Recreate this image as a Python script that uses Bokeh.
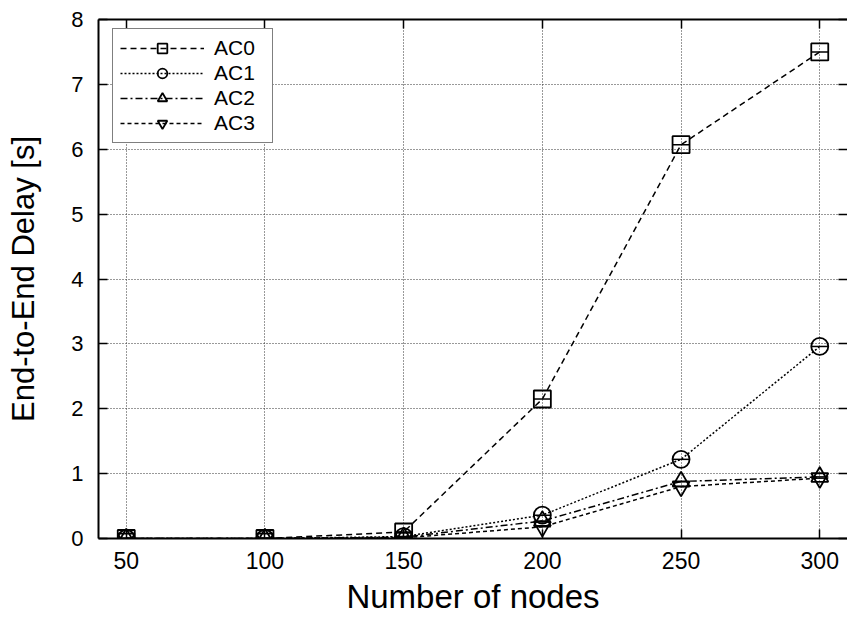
from bokeh.plotting import figure
from bokeh.models import LinearAxis, Range1d, FixedTicker
from bokeh.embed import file_html
from bokeh.resources import INLINE

nodes = [50, 100, 150, 200, 250, 300]
ac0 = [0.0, 0.0, 0.1, 2.15, 6.07, 7.5]
ac1 = [0.0, 0.0, 0.03, 0.36, 1.22, 2.96]
ac2 = [0.0, 0.0, 0.02, 0.27, 0.88, 0.95]
ac3 = [0.0, 0.0, 0.01, 0.18, 0.80, 0.93]
x_ticks = [50, 100, 150, 200, 250, 300]
y_ticks = [0, 1, 2, 3, 4, 5, 6, 7, 8]

FONT = "Liberation Sans"

p = figure(width=847, height=617, output_backend="svg", toolbar_location=None,
           x_range=Range1d(40, 310), y_range=Range1d(0, 8),
           x_axis_location=None, y_axis_location=None,
           min_border_left=98, min_border_right=0, min_border_top=19, min_border_bottom=79)
p.outline_line_color = None
p.background_fill_color = "white"

def style_axis(ax, labels=True):
    ax.major_tick_in = 9
    ax.major_tick_out = 0
    ax.major_tick_line_width = 1.5
    ax.major_tick_line_color = "black"
    ax.minor_tick_line_color = None
    ax.axis_line_width = 2
    ax.axis_line_color = "black"
    ax.major_label_text_font = FONT
    ax.major_label_text_font_size = "22px"
    ax.major_label_text_color = "black"
    ax.axis_label_text_font = FONT
    ax.axis_label_text_font_size = "31px"
    ax.axis_label_text_font_style = "normal"
    ax.axis_label_text_color = "black"
    if not labels:
        ax.major_label_standoff = 0

xb = LinearAxis(ticker=FixedTicker(ticks=x_ticks), axis_label="Number of nodes")
style_axis(xb)
xb.major_label_text_font_size = "23px"
xb.axis_label_text_font_size = "33px"
xb.major_label_standoff = 13
xb.axis_label_standoff = 6
p.add_layout(xb, "below")

xt = LinearAxis(ticker=FixedTicker(ticks=x_ticks))
style_axis(xt, labels=False)
xt.major_label_overrides = {t: "" for t in x_ticks}
p.add_layout(xt, "above")

yl = LinearAxis(ticker=FixedTicker(ticks=y_ticks), axis_label="End-to-End Delay [s]")
style_axis(yl)
yl.major_label_standoff = 15
yl.axis_label_standoff = 27
p.add_layout(yl, "left")

yr = LinearAxis(ticker=FixedTicker(ticks=y_ticks))
style_axis(yr, labels=False)
yr.major_label_overrides = {t: "" for t in y_ticks}
yr.axis_line_color = None
p.add_layout(yr, "right")

p.xgrid.ticker = FixedTicker(ticks=x_ticks)
p.ygrid.ticker = FixedTicker(ticks=y_ticks)
for g in (p.xgrid, p.ygrid):
    g.grid_line_color = "#333333"
    g.grid_line_width = 1
    g.grid_line_dash = "1 2"

series = [
    ("AC0", ac0, "6 4", "square"),
    ("AC1", ac1, "2 2", "circle"),
    ("AC2", ac2, "7 3 2 3", "triangle"),
    ("AC3", ac3, "4 3", "inverted_triangle"),
]
for name, ys, dash, marker in series:
    p.line(nodes, ys, line_color="black", line_width=1.5, line_dash=dash, legend_label=name)
    p.scatter(nodes, ys, marker=marker, size=17, fill_color=None, line_color="black",
              line_width=1.8, legend_label=name)
    p.scatter(nodes, ys, marker="dash", size=17, line_color="black", line_width=1.5)

leg = p.legend[0]
leg.location = (14, 395)
leg.margin = 0
leg.padding = 7
leg.spacing = 1
leg.glyph_width = 84
leg.glyph_height = 24
leg.label_height = 24
leg.label_width = 51
leg.label_standoff = 10
leg.label_text_font = FONT
leg.label_text_font_size = "21px"
leg.label_text_color = "black"
leg.border_line_color = "black"
leg.border_line_width = 1.5
leg.background_fill_color = "white"
leg.background_fill_alpha = 1.0

open("out.html", "w").write(file_html(p, INLINE))
